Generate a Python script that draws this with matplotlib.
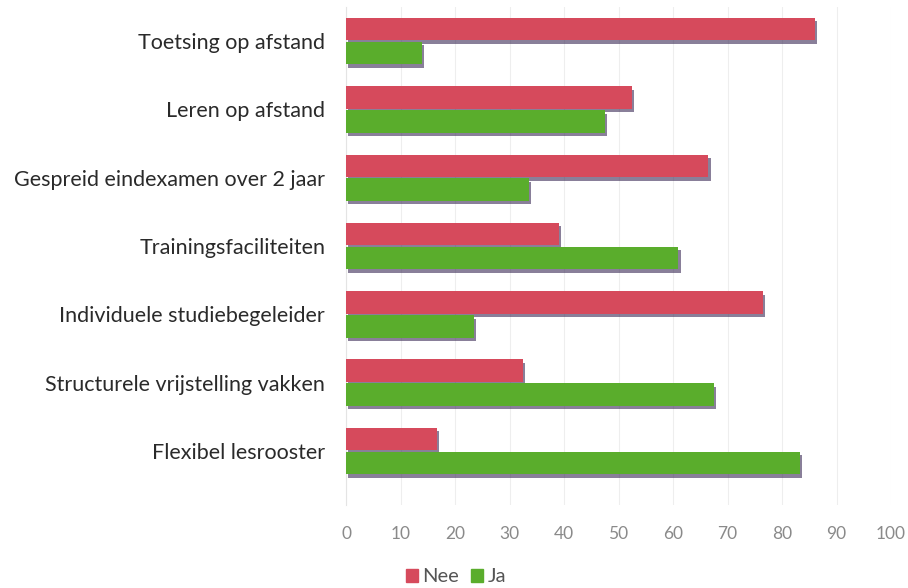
import matplotlib
matplotlib.use("Agg")
import matplotlib.pyplot as plt
import matplotlib.patheffects as pe
from matplotlib.patches import Patch
import numpy as np

categories = ["Toetsing op afstand", "Leren op afstand", "Gespreid eindexamen over 2 jaar",
              "Trainingsfaciliteiten", "Individuele studiebegeleider",
              "Structurele vrijstelling vakken", "Flexibel lesrooster"]
nee = [86, 52.5, 66.5, 39, 76.5, 32.5, 16.7]
ja = [14, 47.5, 33.5, 61, 23.5, 67.5, 83.3]
xticks = [0, 10, 20, 30, 40, 50, 60, 70, 80, 90, 100]

W, H = 908, 588
fig = plt.figure(figsize=(W / 100, H / 100), dpi=100)
plt.rcParams['font.family'] = ['Lato', 'DejaVu Sans']

left, right, top, bottom = 346, 891, 7, 505
ax = fig.add_axes([left / W, 1 - bottom / H, (right - left) / W, (bottom - top) / H])

y = np.arange(len(categories))
h = 0.33
red = '#d64a5c'
green = '#5aad2c'
shadow = [pe.SimplePatchShadow(offset=(1.5, -2.5), shadow_rgbFace='#3a2a55', alpha=0.6), pe.Normal()]
b1 = ax.barh(y - h / 2 - 0.01, nee, height=h, color=red, label='Nee', zorder=3)
b2 = ax.barh(y + h / 2 + 0.01, ja, height=h, color=green, label='Ja', zorder=3)
for b in list(b1) + list(b2):
    b.set_path_effects(shadow)

ax.set_xlim(0, 100)
ax.set_ylim(6.79, -0.5)
ax.set_xticks(xticks)
ax.set_xticklabels([str(t) for t in xticks])
ax.set_yticks(y)
ax.set_yticklabels(categories)
ax.tick_params(axis='x', length=0, pad=15, labelsize=12.5, labelcolor='#8a8a8a')
ax.tick_params(axis='y', length=0, pad=15, labelsize=15.5, labelcolor='#2a2a2a')
ax.grid(axis='x', color='#eeeeee', linewidth=0.8, zorder=0)
for s in ['top', 'right', 'bottom']:
    ax.spines[s].set_visible(False)
ax.spines['left'].set_color('#e4e4e4')

handles = [Patch(color=red, label='Nee'), Patch(color=green, label='Ja')]
fig.legend(handles=handles, loc='center', bbox_to_anchor=(456 / W, 1 - 577 / H), ncol=2,
           frameon=False, fontsize=14.5, handlelength=0.6, handleheight=0.6,
           handletextpad=0.2, columnspacing=0.6, labelcolor='#555555')

fig.savefig('out.png', dpi=100, facecolor='white')
